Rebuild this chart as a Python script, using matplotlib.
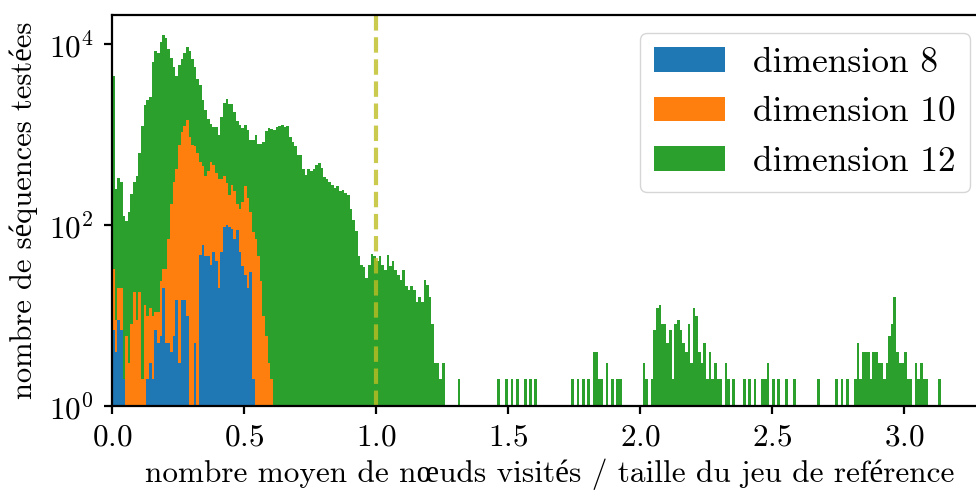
import numpy as np
import matplotlib
matplotlib.use('Agg')
import matplotlib.pyplot as plt
from matplotlib.ticker import NullLocator

# police type LaTeX (Computer Modern)
plt.rcParams['font.family'] = ['cmr10', 'Liberation Serif']
plt.rcParams['mathtext.fontset'] = 'cm'
plt.rcParams['axes.formatter.use_mathtext'] = True

# largeur des classes de l'histogramme
bin_width = 0.01

# effectifs par classe
counts_dim8 = [
    7, 4, 9, 7, 2, 0, 0, 0, 0, 0,
    0, 0, 0, 2, 3, 2, 7, 5, 6, 20,
    5, 5, 4, 6, 15, 3, 15, 15, 10, 0,
    0, 5, 0, 47, 60, 46, 46, 36, 50, 40,
    20, 50, 95, 100, 95, 91, 71, 89, 50, 35,
    28, 20, 30, 2,
]

counts_dim10 = [
    33, 9, 20, 20, 2, 6, 3, 8, 18, 9,
    18, 2, 13, 10, 12, 10, 11, 11, 24, 33,
    33, 71, 170, 300, 420, 760, 1080, 1260, 1450, 950,
    760, 740, 630, 500, 450, 350, 400, 500, 460, 380,
    320, 320, 350, 290, 215, 280, 240, 170, 150, 180,
    270, 200, 140, 83, 71, 45, 24, 10, 6, 3,
    2,
]

counts_dim12 = [
    4400, 250, 330, 300, 125, 110, 140, 220, 300, 350,
    630, 1250, 2150, 2400, 2600, 6300, 8300, 7900, 10500, 12600,
    11700, 8900, 7100, 5600, 4400, 5900, 6900, 7900, 9200, 8500,
    6900, 5600, 4100, 3500, 2400, 1860, 1480, 1320, 1200, 1200,
    1000, 1580, 2240, 2500, 2200, 2200, 1780, 1410, 1290, 1170,
    1290, 1120, 870, 870, 1000, 790, 780, 830, 1100, 1170,
    1150, 1120, 1200, 1230, 1290, 1200, 1230, 950, 830, 740,
    600, 600, 420, 355, 420, 400, 420, 460, 490, 430,
    340, 320, 300, 280, 260, 270, 240, 245, 225, 215,
    150, 115, 85, 45, 36, 34, 26, 36, 48, 45,
    40, 45, 36, 32, 47, 35, 40, 32, 28, 25,
    32, 21, 19, 21, 19, 14, 16, 14, 25, 22,
    16, 8, 3, 3, 2, 3, 0, 0, 0, 0,
    0, 2, 0, 0, 0, 0, 0, 0, 0, 0,
    0, 0, 0, 0, 0, 0, 2, 0, 0, 2,
    0, 2, 0, 2, 0, 0, 2, 0, 2, 0,
    2, 0, 0, 0, 0, 0, 0, 0, 0, 0,
    0, 0, 0, 0, 2, 0, 2, 0, 2, 0,
    2, 0, 4, 4, 2, 2, 0, 3, 0, 2,
    0, 2, 2, 0, 0, 0, 0, 0, 0, 0,
    0, 3, 2, 0, 2, 7, 12, 13, 8, 8,
    5, 7, 2, 8, 9, 7, 5, 4, 8, 3,
    12, 10, 4, 3, 5, 2, 4, 2, 3, 2,
    2, 0, 3, 2, 0, 2, 0, 0, 0, 2,
    0, 2, 0, 2, 0, 0, 2, 2, 3, 0,
    2, 0, 2, 0, 0, 2, 0, 0, 2, 0,
    0, 0, 0, 0, 0, 0, 0, 2, 0, 0,
    0, 0, 0, 0, 2, 0, 2, 0, 2, 0,
    0, 2, 5, 2, 4, 4, 4, 2, 4, 4,
    3, 3, 2, 3, 6, 8, 16, 4, 3, 3,
    4, 2, 2, 0, 3, 2, 3, 2, 2, 0,
    0, 0, 0, 2,
]

series = [
    (counts_dim12, 'tab:green', 'dimension 12'),
    (counts_dim10, 'tab:orange', 'dimension 10'),
    (counts_dim8, 'tab:blue', 'dimension 8'),
]

fig = plt.figure(figsize=(9.76, 4.91), dpi=100)
ax = fig.add_axes([112/976, 1 - 406/491, 876/976, 391/491])

for counts, color, label in series:
    edges = np.arange(len(counts) + 1) * bin_width
    ax.hist(edges[:-1], bins=edges, weights=counts, color=color, label=label, log=True)

# seuil : taille du jeu de référence
ax.axvline(1.0, color='tab:olive', ls='--', lw=3, alpha=0.8)

ax.set_xlim(0, 3.318)
ax.set_ylim(1, 2.1e4)
ax.set_xticks([0, 0.5, 1.0, 1.5, 2.0, 2.5, 3.0])
ax.set_yticks([1, 1e2, 1e4])
ax.yaxis.set_minor_locator(NullLocator())

for s in ax.spines.values():
    s.set_linewidth(1.6)
ax.tick_params(labelsize=22.5, length=6, width=1.6, pad=7)

ax.set_xlabel('nombre moyen de nœuds visités / taille du jeu de reférence', fontsize=22.5, labelpad=5)
ax.set_ylabel('nombre de séquences testées', fontsize=22, labelpad=8)

handles, labels = ax.get_legend_handles_labels()
ax.legend(handles[::-1], labels[::-1], loc='upper right', fontsize=25.5,
          bbox_to_anchor=((970 - 112) / 876, (406 - 33) / 391), borderaxespad=0)

fig.savefig('out.png', dpi=100)
